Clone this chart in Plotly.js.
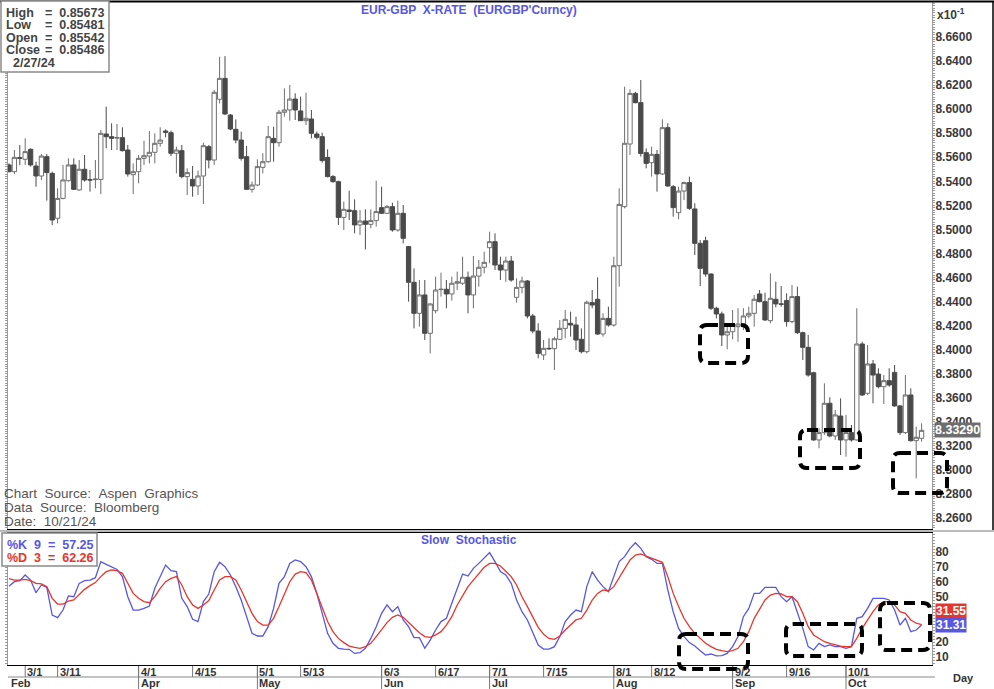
<!DOCTYPE html>
<html><head><meta charset="utf-8">
<script src="https://cdn.plot.ly/plotly-3.0.1.min.js"></script>
<style>html,body{margin:0;padding:0;background:#fff}#chart{width:994px;height:689px}</style>
</head><body><div id="chart"></div>
<script>
// ---------- DATA ----------
const START_DATE = '2024-02-27';
const END_DATE = '2024-10-21';

const opens = [0.85536,0.85480,0.85597,0.85583,0.85666,0.85527,0.85444,0.85605,0.85466,0.85092,
0.85258,0.85405,0.85536,0.85328,0.85500,0.85413,0.85414,0.85416,0.85793,0.85771,
0.85760,0.85763,0.85660,0.85455,0.85480,0.85591,0.85610,0.85641,0.85716,0.85818,
0.85804,0.85633,0.85655,0.85439,0.85416,0.85361,0.85444,0.85688,0.85577,0.86082,
0.86256,0.85951,0.85832,0.85743,0.85605,0.85333,0.85369,0.85516,0.85563,0.85757,
0.85721,0.85974,0.85993,0.86084,0.85985,0.85904,0.85918,0.85793,0.85771,0.85599,
0.85439,0.85397,0.85100,0.85161,0.85156,0.85037,0.85070,0.85042,0.85073,0.85181,
0.85134,0.85189,0.84995,0.85134,0.84857,0.84560,0.84302,0.84455,0.84136,0.84324,
0.84500,0.84502,0.84463,0.84552,0.84552,0.84602,0.84455,0.84612,0.84685,0.84848,
0.84898,0.84704,0.84662,0.84737,0.84435,0.84518,0.84571,0.84280,0.84155,0.83956,
0.84011,0.84008,0.84086,0.84177,0.84219,0.84205,0.84086,0.83983,0.84391,0.84419,
0.84130,0.84260,0.84205,0.84698,0.85189,0.85710,0.86131,0.86054,0.85638,0.85555,
0.85624,0.85461,0.85846,0.85355,0.85139,0.85319,0.85389,0.85170,0.84884,0.84906,
0.84629,0.84344,0.84297,0.84122,0.84149,0.84191,0.84213,0.84280,0.84302,0.84463,
0.84399,0.84241,0.84419,0.84380,0.84408,0.84233,0.84441,0.84141,0.84019,0.83808,
0.83249,0.83310,0.83554,0.83282,0.83448,0.83249,0.83310,0.83249,0.84047,0.83637,
0.83881,0.83797,0.83692,0.83742,0.83811,0.83532,0.83310,0.83623,0.83243,0.83263];

const highs = [0.85549,0.85660,0.85702,0.85757,0.85674,0.85563,0.85627,0.85627,0.85480,0.85342,
0.85536,0.85591,0.85591,0.85577,0.85619,0.85494,0.85577,0.85827,0.86021,0.85882,
0.85877,0.85849,0.85702,0.85549,0.85619,0.85738,0.85818,0.85799,0.85849,0.85832,
0.85821,0.85688,0.85702,0.85508,0.85527,0.85489,0.85721,0.85702,0.86159,0.86436,
0.86441,0.85960,0.85915,0.85813,0.85694,0.85397,0.85583,0.85633,0.85860,0.85854,
0.85993,0.86173,0.86201,0.86132,0.86104,0.86137,0.85993,0.85813,0.85804,0.85666,
0.85452,0.85405,0.85231,0.85322,0.85250,0.85161,0.85167,0.85167,0.85405,0.85355,
0.85203,0.85222,0.85239,0.85203,0.84862,0.84676,0.84579,0.84579,0.84385,0.84607,
0.84640,0.84579,0.84607,0.84649,0.84773,0.84649,0.84779,0.84746,0.84815,0.84981,
0.84967,0.84773,0.84773,0.84779,0.84593,0.84607,0.84579,0.84297,0.84219,0.84080,
0.84094,0.84108,0.84247,0.84330,0.84316,0.84274,0.84177,0.84408,0.84496,0.84601,
0.84302,0.84357,0.84773,0.85341,0.86187,0.86165,0.86145,0.86242,0.85674,0.85688,
0.85660,0.85915,0.85882,0.85369,0.85355,0.85397,0.85439,0.85217,0.84911,0.84939,
0.84634,0.84357,0.84316,0.84205,0.84330,0.84344,0.84344,0.84357,0.84455,0.84496,
0.84474,0.84634,0.84565,0.84529,0.84468,0.84538,0.84524,0.84149,0.84122,0.83817,
0.83346,0.83720,0.83604,0.83498,0.83595,0.83457,0.83374,0.84344,0.84066,0.84039,
0.83914,0.83845,0.83789,0.83845,0.83872,0.83540,0.83789,0.83678,0.83360,0.83387];

const lows = [0.85475,0.85461,0.85536,0.85536,0.85522,0.85355,0.85411,0.85239,0.85037,0.85050,
0.85250,0.85397,0.85328,0.85322,0.85397,0.85314,0.85342,0.85294,0.85674,0.85660,
0.85660,0.85647,0.85439,0.85294,0.85383,0.85536,0.85549,0.85549,0.85688,0.85766,
0.85610,0.85466,0.85425,0.85286,0.85272,0.85286,0.85211,0.85508,0.85536,0.86048,
0.85951,0.85827,0.85716,0.85572,0.85328,0.85306,0.85361,0.85466,0.85555,0.85563,
0.85688,0.85938,0.85904,0.85910,0.85902,0.85868,0.85757,0.85749,0.85555,0.85433,
0.85389,0.85037,0.84995,0.85078,0.84967,0.84954,0.84834,0.85009,0.85023,0.85128,
0.85128,0.84981,0.84981,0.84884,0.84399,0.84177,0.84191,0.84080,0.83969,0.84302,
0.84441,0.84344,0.84408,0.84496,0.84538,0.84302,0.84344,0.84524,0.84634,0.84718,
0.84662,0.84579,0.84565,0.84565,0.84391,0.84468,0.84260,0.84136,0.83928,0.83914,
0.83997,0.83831,0.84080,0.84094,0.84108,0.83997,0.83969,0.83969,0.84344,0.84122,
0.84108,0.84191,0.84191,0.84524,0.85175,0.85619,0.86048,0.85605,0.85508,0.85439,
0.85314,0.85452,0.85355,0.85106,0.85084,0.85244,0.85161,0.84787,0.84529,0.84607,
0.84330,0.84260,0.84030,0.84003,0.84086,0.84066,0.84163,0.84260,0.84191,0.84394,
0.84238,0.84219,0.84352,0.84357,0.84191,0.84219,0.84130,0.83914,0.83775,0.83243,
0.83180,0.83291,0.83271,0.83249,0.83124,0.83110,0.83235,0.83243,0.83615,0.83623,
0.83554,0.83678,0.83548,0.83692,0.83526,0.83291,0.83299,0.83235,0.82930,0.83235];

const closes = [0.85480,0.85599,0.85591,0.85647,0.85536,0.85444,0.85610,0.85472,0.85078,0.85258,
0.85411,0.85536,0.85333,0.85500,0.85411,0.85411,0.85418,0.85799,0.85771,0.85757,
0.85763,0.85655,0.85461,0.85480,0.85591,0.85613,0.85641,0.85716,0.85743,0.85808,
0.85633,0.85660,0.85439,0.85472,0.85361,0.85444,0.85696,0.85577,0.86140,0.86256,
0.85960,0.85835,0.85743,0.85591,0.85333,0.85369,0.85522,0.85563,0.85771,0.85721,
0.85974,0.85993,0.86084,0.85993,0.85904,0.85924,0.85799,0.85766,0.85572,0.85439,
0.85397,0.85100,0.85167,0.85150,0.85037,0.85070,0.85042,0.85073,0.85148,0.85134,
0.85189,0.84995,0.85134,0.84926,0.84560,0.84302,0.84455,0.84136,0.84380,0.84496,
0.84502,0.84463,0.84552,0.84565,0.84602,0.84455,0.84612,0.84685,0.84726,0.84898,
0.84704,0.84662,0.84737,0.84579,0.84518,0.84571,0.84280,0.84155,0.83969,0.84011,
0.84008,0.84091,0.84177,0.84252,0.84205,0.84080,0.83983,0.84394,0.84371,0.84130,
0.84260,0.84205,0.84698,0.85208,0.85716,0.86131,0.86054,0.85632,0.85549,0.85624,
0.85461,0.85846,0.85361,0.85181,0.85319,0.85389,0.85175,0.84884,0.84676,0.84629,
0.84344,0.84297,0.84122,0.84149,0.84210,0.84213,0.84280,0.84302,0.84419,0.84399,
0.84247,0.84427,0.84380,0.84378,0.84233,0.84441,0.84141,0.84019,0.83789,0.83249,
0.83310,0.83554,0.83282,0.83457,0.83249,0.83310,0.83249,0.84047,0.83623,0.83881,
0.83789,0.83692,0.83742,0.83706,0.83532,0.83310,0.83623,0.83243,0.83271,0.83329];

const stochK = [57.25,60.2,60.9,64.7,61.3,52.9,58.0,56.4,38.0,36.2,
41.3,50.7,50.2,59.1,60.9,61.3,62.9,73.6,71.8,70.2,
68.4,63.6,50.2,41.3,41.3,42.4,44.0,55.8,63.6,71.3,
67.6,66.9,49.1,43.6,35.1,33.6,46.9,52.0,66.9,73.1,
70.2,64.7,56.9,48.0,36.9,25.8,24.0,24.0,30.2,42.4,
59.1,63.6,72.4,74.7,73.6,70.2,63.6,52.4,39.1,25.8,
19.1,15.8,15.3,15.1,12.4,12.9,15.8,22.4,30.2,39.1,
44.7,40.2,43.6,34.7,30.2,22.9,22.9,15.8,21.3,28.0,
33.6,35.8,45.8,55.8,65.3,64.0,69.1,72.4,75.8,79.6,
73.6,66.9,64.7,59.1,48.0,40.2,34.7,25.8,18.0,15.3,
15.3,16.9,23.6,33.6,38.0,41.3,40.2,56.9,66.9,61.3,
56.9,53.6,63.6,73.6,76.9,82.4,86.2,82.4,76.9,75.1,
72.4,72.4,54.7,40.2,29.1,23.6,19.6,17.3,14.2,11.3,
12.0,10.7,10.9,12.4,16.9,23.6,36.9,42.4,52.4,52.4,
56.4,56.4,56.4,50.2,46.9,50.2,40.2,29.1,16.9,14.7,
19.1,16.9,18.0,16.9,16.9,15.8,16.9,35.8,36.9,42.4,
49.1,49.1,49.1,48.0,41.3,31.3,35.8,26.9,28.0,31.31];

const stochD = [62.26,61.3,61.3,61.8,60.9,59.1,58.7,56.9,49.1,45.3,
45.3,47.3,48.0,51.3,55.1,57.6,59.6,63.6,66.9,68.0,
67.6,65.8,59.1,52.4,49.1,46.9,46.2,50.2,55.8,60.2,
62.4,63.6,58.0,50.2,44.7,42.4,44.7,47.6,54.7,61.3,
63.6,63.6,61.3,54.7,46.9,39.1,33.6,31.3,31.3,35.8,
43.6,52.4,60.2,65.3,66.9,66.2,61.3,52.4,42.4,33.6,
26.9,22.4,19.6,17.3,16.4,15.8,16.9,19.1,23.6,28.0,
32.9,36.4,38.0,36.4,32.9,29.1,26.2,23.6,23.1,24.7,
26.9,31.3,36.9,44.7,51.3,56.9,61.3,65.8,69.8,72.4,
72.4,70.7,66.9,63.6,58.0,50.2,43.6,36.4,29.8,25.1,
22.4,21.8,24.0,28.0,31.6,34.7,35.8,41.3,48.0,52.4,
54.7,54.0,56.9,63.1,69.1,74.7,78.0,78.7,77.3,75.8,
74.7,73.1,63.6,52.4,43.6,35.8,30.2,25.8,22.4,19.1,
16.9,15.1,14.2,13.6,14.2,15.8,20.2,26.9,35.8,42.4,
48.0,51.3,52.4,52.0,50.2,50.2,46.9,39.1,30.2,24.7,
22.4,20.2,19.1,18.0,17.3,16.9,16.9,22.4,29.1,34.7,
40.2,44.7,46.9,46.9,44.7,40.2,39.1,34.7,32.5,31.55];

const priceTickLabels = ['8.6600','8.6400','8.6200','8.6000','8.5800','8.5600','8.5400','8.5200','8.5000','8.4800','8.4600',
  '8.4400','8.4200','8.4000','8.3800','8.3600','8.3400','8.3200','8.3000','8.2800','8.2600'];
const stochTickVals = [10,20,30,40,50,60,70,80];

const dayTickDates  = ['2024-03-01','2024-03-11','2024-04-01','2024-04-15','2024-05-01','2024-05-13','2024-06-03','2024-06-17',
  '2024-07-01','2024-07-15','2024-08-01','2024-08-12','2024-09-02','2024-09-16','2024-10-01'];
const dayTickLabels = ['3/1','3/11','4/1','4/15','5/1','5/13','6/3','6/17','7/1','7/15','8/1','8/12','9/2','9/16','10/1'];
const monthTickDates  = ['2024-02-27','2024-04-01','2024-05-01','2024-06-03','2024-07-01','2024-08-01','2024-09-02','2024-10-01'];
const monthTickLabels = ['Feb','Apr','May','Jun','Jul','Aug','Sep','Oct'];

const infoLabels = ['High','Low','Open','Close'];
const infoValues = ['0.85673','0.85481','0.85542','0.85486'];
const infoDate = '2/27/24';
const stochK_period = 9, stochD_period = 3;
const stochK_hover = '57.25', stochD_hover = '62.26';

// ---------- HELPERS ----------
function weekdays(s, e) {
  const out = []; let d = new Date(s + 'T00:00:00Z'); const end = new Date(e + 'T00:00:00Z');
  while (d <= end) { const w = d.getUTCDay(); if (w !== 0 && w !== 6) out.push(d.toISOString().slice(0, 10)); d = new Date(d.getTime() + 86400000); }
  return out;
}
const dates = weekdays(START_DATE, END_DATE);
const idx = d => dates.indexOf(d);

const W = 994, H = 689, M = {l: 8, r: 62, t: 2, b: 24};
const PW = W - M.l - M.r, PH = H - M.t - M.b;
const px2x = p => (p - M.l) / PW;
const px2y = p => (H - M.b - p) / PH;

const FONT = 'Arial, "Liberation Sans", sans-serif';
const BLUE = '#5757e3', RED = '#e8352c', TXT = '#3a3a3a';
const sp = s => s.replace(/  /g, ' \u00a0');

function rrect(x0, y0, x1, y1, r) {
  const X = px2x, Y = px2y;
  const f = (x, y) => X(x).toFixed(5) + ',' + Y(y).toFixed(5);
  return 'M' + f(x0 + r, y0) + ' L' + f(x1 - r, y0) + ' Q' + f(x1, y0) + ' ' + f(x1, y0 + r) +
    ' L' + f(x1, y1 - r) + ' Q' + f(x1, y1) + ' ' + f(x1 - r, y1) +
    ' L' + f(x0 + r, y1) + ' Q' + f(x0, y1) + ' ' + f(x0, y1 - r) +
    ' L' + f(x0, y0 + r) + ' Q' + f(x0, y0) + ' ' + f(x0 + r, y0) + ' Z';
}
function txt(text, x, y, size, color, opts) {
  return Object.assign({xref: 'paper', yref: 'paper', x: px2x(x), y: px2y(y), xanchor: 'left', yanchor: 'middle',
    text: text, showarrow: false, font: {family: FONT, size: size, color: color}, borderpad: 0}, opts || {});
}

// ---------- TRACES ----------
const traces = [
  {type: 'candlestick', x: dates, open: opens, high: highs, low: lows, close: closes, xaxis: 'x', yaxis: 'y',
   increasing: {line: {color: '#6e6e6e', width: 1}, fillcolor: '#ffffff'},
   decreasing: {line: {color: '#4a4a4a', width: 1}, fillcolor: '#4a4a4a'},
   whiskerwidth: 0, hoverinfo: 'skip'},
  {type: 'scatter', mode: 'lines', x: dates, y: stochK, xaxis: 'x2', yaxis: 'y2', line: {color: BLUE, width: 1.3}, hoverinfo: 'skip'},
  {type: 'scatter', mode: 'lines', x: dates, y: stochD, xaxis: 'x2', yaxis: 'y2', line: {color: RED, width: 1.3}, hoverinfo: 'skip'}
];

// ---------- SHAPES ----------
const shapes = [];
const dash = {color: '#000', width: 4, dash: '11px,6px'};
const boxesPx = [[700, 325, 748, 363], [800, 430, 860, 468], [893, 453, 947, 493],
                 [679, 634, 748, 669], [786, 624, 862, 656], [880, 603, 930, 650]];
shapes.push({type: 'line', xref: 'paper', yref: 'paper', x0: px2x(0), x1: px2x(994), y0: px2y(1.5), y1: px2y(1.5), line: {color: '#000', width: 2}});
shapes.push({type: 'line', xref: 'paper', yref: 'paper', x0: px2x(993), x1: px2x(993), y0: px2y(1), y1: px2y(530), line: {color: '#000', width: 1.5}});
shapes.push({type: 'line', xref: 'paper', yref: 'paper', x0: px2x(0), x1: px2x(994), y0: px2y(531), y1: px2y(531), line: {color: '#777', width: 1}});
shapes.push({type: 'line', xref: 'paper', yref: 'paper', x0: px2x(8), x1: px2x(935), y0: px2y(677), y1: px2y(677), line: {color: '#888', width: 1}});
dayTickDates.forEach(d => shapes.push({type: 'line', xref: 'x2', yref: 'paper', x0: idx(d), x1: idx(d), y0: px2y(666), y1: px2y(677), line: {color: '#777', width: 1}}));
monthTickDates.slice(1).forEach(d => shapes.push({type: 'line', xref: 'x2', yref: 'paper', x0: idx(d), x1: idx(d), y0: px2y(666), y1: px2y(689), line: {color: '#777', width: 1}}));
shapes.push({type: 'rect', xref: 'paper', yref: 'paper', x0: px2x(1), x1: px2x(109), y0: px2y(1), y1: px2y(72), fillcolor: '#fff', line: {color: '#8a8a8a', width: 1.5}, layer: 'above'});
shapes.push({type: 'rect', xref: 'paper', yref: 'paper', x0: px2x(2), x1: px2x(97), y0: px2y(533), y1: px2y(566), fillcolor: '#fff', line: {color: '#8a8a8a', width: 1.5}, layer: 'above'});
boxesPx.forEach(b => shapes.push({type: 'path', xref: 'paper', yref: 'paper', path: rrect(b[0], b[1], b[2], b[3], 7), line: dash, layer: 'above'}));

// ---------- ANNOTATIONS ----------
const ann = [];
ann.push(txt('<b>' + sp("EUR-GBP  X-RATE  (EURGBP'Curncy)") + '</b>', 469, 10, 12, BLUE, {xanchor: 'center'}));
ann.push(txt('<b>' + sp('Slow  Stochastic') + '</b>', 469, 540, 12, BLUE, {xanchor: 'center'}));
ann.push(txt('<b>x10<sup>-1</sup></b>', 936, 14, 12, TXT));
infoLabels.forEach((l, i) => {
  ann.push(txt('<b>' + l + '</b>', 5, 13 + i * 12.5, 12.5, '#444'));
  ann.push(txt('<b>=\u00a0 ' + infoValues[i] + '</b>', 44, 13 + i * 12.5, 12.5, '#444'));
});
ann.push(txt('<b>' + infoDate + '</b>', 12, 63, 12.5, '#444'));
ann.push(txt(sp('Chart  Source:  Aspen  Graphics'), 3, 493, 13.5, '#555'));
ann.push(txt(sp('Data  Source:  Bloomberg'), 3, 507, 13.5, '#555'));
ann.push(txt(sp('Date:  10/21/24'), 3, 521, 13.5, '#555'));
ann.push(txt('<b>' + sp('%K  ' + stochK_period + '  =  ' + stochK_hover) + '</b>', 6, 545, 12.5, BLUE));
ann.push(txt('<b>' + sp('%D  ' + stochD_period + '  =  ' + stochD_hover) + '</b>', 6, 557.5, 12.5, RED));
dayTickDates.forEach((d, i) => ann.push({xref: 'x2', yref: 'paper', x: idx(d), y: px2y(672), xanchor: 'left', yanchor: 'middle', xshift: 1,
  text: '<b>' + dayTickLabels[i] + '</b>', showarrow: false, borderpad: 0, font: {family: FONT, size: 11, color: '#333'}}));
monthTickDates.forEach((d, i) => ann.push({xref: 'x2', yref: 'paper', x: Math.max(idx(d), 0), y: px2y(683.5), xanchor: 'left', yanchor: 'middle', xshift: 1,
  text: '<b>' + monthTickLabels[i] + '</b>', showarrow: false, borderpad: 0, font: {family: FONT, size: 11, color: '#333'}}));
ann.push(txt('<b>Day</b>', 952, 678, 11, '#333'));
const lastC = closes[closes.length - 1];
ann.push({xref: 'paper', yref: 'y', x: px2x(934), y: lastC, xanchor: 'left', yanchor: 'middle', showarrow: false,
  text: '<b>' + (lastC * 10).toFixed(5) + '</b>', bgcolor: '#6e6e6e', borderpad: 0, font: {family: FONT, size: 12.5, color: '#fff'}});
const lastK = stochK[stochK.length - 1], lastD = stochD[stochD.length - 1];
ann.push({xref: 'paper', yref: 'y2', x: px2x(935), y: lastD, yshift: 13.5, xanchor: 'left', yanchor: 'middle', showarrow: false,
  text: '<b>' + lastD.toFixed(2) + '</b>', bgcolor: RED, borderpad: 0, font: {family: FONT, size: 12, color: '#fff'}});
ann.push({xref: 'paper', yref: 'y2', x: px2x(935), y: lastK, xanchor: 'left', yanchor: 'middle', showarrow: false,
  text: '<b>' + lastK.toFixed(2) + '</b>', bgcolor: BLUE, borderpad: 0, font: {family: FONT, size: 12, color: '#fff'}});

// ---------- LAYOUT ----------
const yTop = [px2y(529), px2y(2)], yBot = [0, px2y(533)];
const xr = [-1 / 5.4, -1 / 5.4 + PW / 5.4];
const v = p => 8.66 - (p - 37) * 0.02 / 24.05; // display units used only for axis range
const layout = {
  width: W, height: H, margin: M, paper_bgcolor: '#fff', plot_bgcolor: '#fff', showlegend: false,
  font: {family: FONT, size: 12, color: TXT}, dragmode: false, boxgap: 0.2, boxgroupgap: 0,
  xaxis: {type: 'category', domain: [0, 1], anchor: 'y', range: xr, showticklabels: false, ticks: '', showgrid: false,
          showline: true, mirror: true, linecolor: '#000', linewidth: 1, rangeslider: {visible: false}, fixedrange: true, zeroline: false},
  yaxis: {domain: yTop, anchor: 'x', side: 'right', range: [v(529) / 10, v(2) / 10], tickmode: 'array',
          tickvals: priceTickLabels.map(s => parseFloat(s) / 10), ticktext: priceTickLabels, ticks: '',
          showgrid: false, zeroline: false, showline: true, linecolor: '#999', linewidth: 1, mirror: 'allticks',
          minor: {ticks: 'outside', ticklen: 2, tickcolor: '#999', tickmode: 'linear', tick0: 0.826, dtick: 0.0002, showgrid: false},
          tickfont: {family: FONT, size: 12, color: TXT, weight: 'bold'}, fixedrange: true},
  xaxis2: {type: 'category', matches: 'x', domain: [0, 1], anchor: 'y2', showticklabels: false, ticks: '', showgrid: false,
           showline: true, mirror: true, linecolor: '#000', linewidth: 1, fixedrange: true, zeroline: false},
  yaxis2: {domain: yBot, anchor: 'x2', side: 'right', range: [10 - (665 - 657) / 1.5, 10 + (657 - 533) / 1.5], tickmode: 'array',
           tickvals: stochTickVals, ticktext: stochTickVals.map(String), ticks: '', showgrid: false, zeroline: false,
           showline: true, linecolor: '#999', linewidth: 1, mirror: 'allticks',
           minor: {ticks: 'outside', ticklen: 2, tickcolor: '#999', tickmode: 'linear', tick0: 0, dtick: 2, showgrid: false},
           tickfont: {family: FONT, size: 12, color: TXT, weight: 'bold'}, fixedrange: true},
  shapes: shapes, annotations: ann
};
Plotly.newPlot('chart', traces, layout, {staticPlot: true, displayModeBar: false});
</script></body></html>
